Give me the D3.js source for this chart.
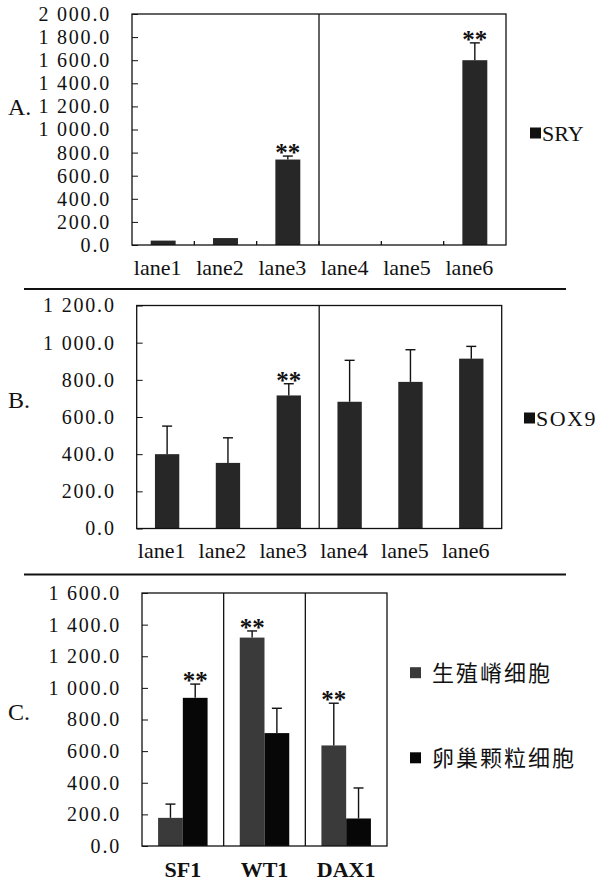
<!DOCTYPE html>
<html lang="zh">
<head>
<meta charset="UTF-8">
<title>SRY / SOX9 / SF1 WT1 DAX1</title>
<style>
  body { margin: 0; background: #fff; }
  svg text { font-family: "Liberation Serif", "Times New Roman", serif; fill: #111; }
  svg text.cjk { font-family: "Noto Sans CJK SC", sans-serif; }
  .frame { fill: none; stroke: #111; stroke-width: 1.3; }
  .err { stroke: #111; stroke-width: 1.4; fill: none; }
  .sep { stroke: #111; stroke-width: 1.8; }
</style>
</head>
<body>
<script src="https://d3js.org/d3.v7.min.js"></script>
<script>
// ---- data ----
var lanes = ["lane1", "lane2", "lane3", "lane4", "lane5", "lane6"];

var sryMean  = [38, 60, 740, 0, 0, 1600];
var sryErr   = [0, 0, 30, 0, 0, 150];
var sryStar  = [0, 0, 1, 0, 0, 1];
var sryTicks = [0, 200, 400, 600, 800, 1000, 1200, 1400, 1600, 1800, 2000];

var soxMean  = [400, 353, 716, 682, 789, 914];
var soxErr   = [151, 135, 63, 223, 173, 66];
var soxStar  = [0, 0, 1, 0, 0, 0];
var soxTicks = [0, 200, 400, 600, 800, 1000, 1200];

var genes  = ["SF1", "WT1", "DAX1"];
var series = ["生殖嵴细胞", "卵巢颗粒细胞"];
var ridgeMean = [178, 1318, 636];
var ridgeErr  = [87, 42, 267];
var ridgeStar = [0, 1, 1];
var ovaryMean = [937, 714, 174];
var ovaryErr  = [87, 157, 193];
var ovaryStar = [1, 0, 0];
var geneTicks = [0, 200, 400, 600, 800, 1000, 1200, 1400, 1600];

var fmt = d3.formatLocale({decimal: ".", thousands: " ", grouping: [3], currency: ["", ""]}).format(",.1f");

var svg = d3.select("body").append("svg")
    .attr("width", 601)
    .attr("height", 886);

function yAxis(g, y, left) {
    g.append("g")
        .attr("transform", "translate(" + left + ",0)")
        .style("color", "#111")
        .call(d3.axisLeft(y).tickValues(y.ticksList).tickFormat(fmt).tickSize(-6).tickPadding(21))
        .call(function(a) { a.select(".domain").remove(); })
        .attr("font-size", 20)
        .attr("font-family", null)
        .selectAll("text").attr("letter-spacing", 1.8);
}

function errorBars(g, rows) {
    var e = g.append("g").attr("class", "err");
    rows.forEach(function(r) {
        if (r.top >= r.bot) return;
        e.append("line").attr("x1", r.cx).attr("x2", r.cx).attr("y1", r.bot).attr("y2", r.top);
        e.append("line").attr("x1", r.cx - 5).attr("x2", r.cx + 5).attr("y1", r.top).attr("y2", r.top);
    });
}

function stars(g, rows) {
    g.selectAll(null).data(rows).join("text")
        .attr("x", function(r) { return r.cx; })
        .attr("y", function(r) { return r.top + 5; })
        .attr("text-anchor", "middle")
        .attr("font-size", 25)
        .attr("font-weight", "bold")
        .text("**");
}

// ---- panels A and B ----
function lanePanel(p) {
    var g = svg.append("g");
    var x = d3.scaleBand().domain(lanes).range([p.left, p.right]).paddingInner(0.6).paddingOuter(0.3);
    var y = d3.scaleLinear().domain([0, p.ticks[p.ticks.length - 1]]).range([p.bottom, p.top]);
    y.ticksList = p.ticks;

    g.selectAll("rect.bar").data(p.mean).join("rect")
        .attr("class", "bar")
        .attr("x", function(d, i) { return x(lanes[i]); })
        .attr("y", function(d) { return y(d); })
        .attr("width", x.bandwidth())
        .attr("height", function(d) { return y(0) - y(d); })
        .attr("fill", "#272727");

    var rows = p.mean.map(function(d, i) {
        return {cx: x(lanes[i]) + x.bandwidth() / 2, top: y(d + p.err[i]), bot: y(d), star: p.star[i]};
    });
    errorBars(g, rows);
    stars(g, rows.filter(function(r) { return r.star; }));

    g.append("rect").attr("class", "frame")
        .attr("x", p.left).attr("y", p.top)
        .attr("width", p.right - p.left).attr("height", p.bottom - p.top);
    var xd = p.left + 3 * x.step();
    g.append("line").attr("class", "frame")
        .attr("x1", xd).attr("x2", xd).attr("y1", p.top).attr("y2", p.bottom);

    if (p.boundaryTicks) {
        d3.range(1, lanes.length).forEach(function(k) {
            var bx = p.left + k * x.step();
            g.append("line").attr("class", "frame")
                .attr("x1", bx).attr("x2", bx).attr("y1", p.bottom).attr("y2", p.bottom - 4);
        });
    }

    yAxis(g, y, p.left);

    g.append("g")
        .attr("transform", "translate(0," + p.bottom + ")")
        .call(d3.axisBottom(x).tickSize(0).tickPadding(14))
        .call(function(a) { a.select(".domain").remove(); })
        .attr("font-size", 22)
        .attr("font-family", null)
        .selectAll("text").attr("dx", "-0.25em");

    g.append("rect")
        .attr("x", p.legendX).attr("y", p.legendY - 5.5)
        .attr("width", 11).attr("height", 11)
        .attr("fill", "#111");
    g.append("text")
        .attr("x", p.legendX + 12).attr("y", p.legendY)
        .attr("dy", "0.35em")
        .attr("font-size", p.legendSize)
        .attr("letter-spacing", p.legendSpacing)
        .text(p.legend);

    g.append("text")
        .attr("x", 8).attr("y", p.labelY).attr("dy", "0.32em")
        .attr("font-size", 24)
        .text(p.label);

    g.append("line").attr("class", "sep")
        .attr("x1", 24).attr("x2", 566).attr("y1", p.sepY).attr("y2", p.sepY);
}

lanePanel({
    left: 132, right: 506, top: 14, bottom: 245,
    mean: sryMean, err: sryErr, star: sryStar, ticks: sryTicks,
    boundaryTicks: true,
    legend: "SRY", legendX: 530, legendY: 133, legendSize: 22, legendSpacing: 0,
    label: "A.", labelY: 107, sepY: 289
});

lanePanel({
    left: 136.7, right: 501.7, top: 305.5, bottom: 528.5,
    mean: soxMean, err: soxErr, star: soxStar, ticks: soxTicks,
    boundaryTicks: false,
    legend: "SOX9", legendX: 524, legendY: 418, legendSize: 22, legendSpacing: 1.5,
    label: "B.", labelY: 400, sepY: 574.5
});

// ---- panel C ----
(function() {
    var left = 142, right = 387, top = 593, bottom = 846;
    var g = svg.append("g");
    var x0 = d3.scaleBand().domain(genes).range([left, right]);
    var x1 = d3.scaleBand().domain(series).range([0, x0.bandwidth()]).paddingInner(0).paddingOuter(0.65);
    var y = d3.scaleLinear().domain([0, 1600]).range([bottom, top]);
    y.ticksList = geneTicks;
    var color = d3.scaleOrdinal().domain(series).range(["#3a3a3a", "#070707"]);

    var sets = [
        {name: series[0], mean: ridgeMean, err: ridgeErr, star: ridgeStar},
        {name: series[1], mean: ovaryMean, err: ovaryErr, star: ovaryStar}
    ];

    var rows = [];
    sets.forEach(function(s) {
        g.selectAll(null).data(s.mean).join("rect")
            .attr("x", function(d, i) { return x0(genes[i]) + x1(s.name); })
            .attr("y", function(d) { return y(d); })
            .attr("width", x1.bandwidth())
            .attr("height", function(d) { return y(0) - y(d); })
            .attr("fill", color(s.name));
        s.mean.forEach(function(d, i) {
            rows.push({cx: x0(genes[i]) + x1(s.name) + x1.bandwidth() / 2,
                       top: y(d + s.err[i]), bot: y(d), star: s.star[i]});
        });
    });
    errorBars(g, rows);
    stars(g, rows.filter(function(r) { return r.star; }));

    g.append("rect").attr("class", "frame")
        .attr("x", left).attr("y", top)
        .attr("width", right - left).attr("height", bottom - top);
    genes.slice(1).forEach(function(k) {
        g.append("line").attr("class", "frame")
            .attr("x1", x0(k)).attr("x2", x0(k)).attr("y1", top).attr("y2", bottom);
    });

    yAxis(g, y, left);

    g.append("g")
        .attr("transform", "translate(0," + bottom + ")")
        .call(d3.axisBottom(x0).tickSize(0).tickPadding(15))
        .call(function(a) { a.select(".domain").remove(); })
        .attr("font-size", 22)
        .attr("font-family", null)
        .attr("font-weight", "bold");

    var legY = [672.7, 757.8];
    series.forEach(function(s, i) {
        g.append("rect")
            .attr("x", 410).attr("y", legY[i] - 5.5)
            .attr("width", 11).attr("height", 11)
            .attr("fill", color(s));
        g.append("text")
            .attr("class", "cjk")
            .attr("x", 432).attr("y", legY[i]).attr("dy", "0.36em")
            .attr("font-size", 22)
            .attr("letter-spacing", 2)
            .text(s);
    });

    g.append("text")
        .attr("x", 8).attr("y", 712).attr("dy", "0.32em")
        .attr("font-size", 24)
        .text("C.");
})();
</script>
</body>
</html>
